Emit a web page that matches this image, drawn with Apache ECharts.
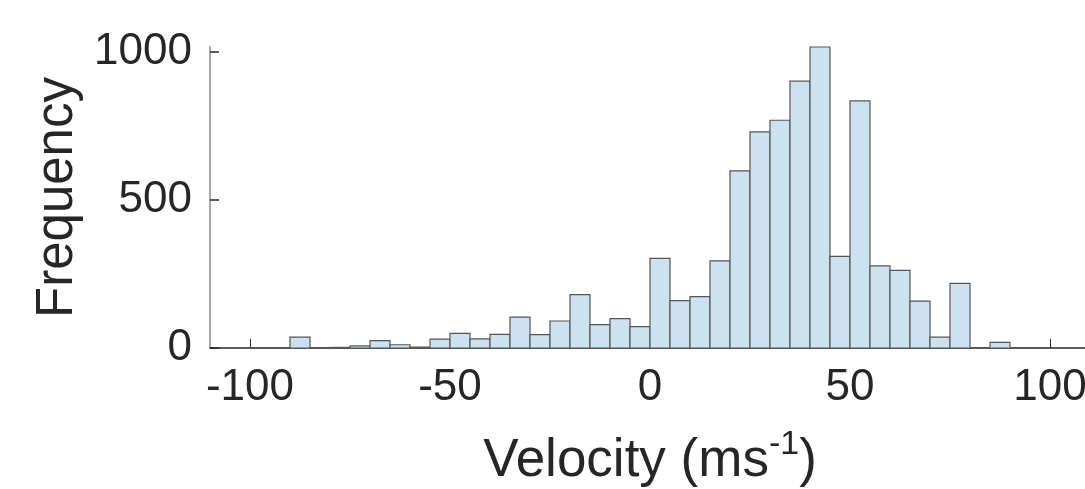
<!DOCTYPE html>
<html>
<head>
<meta charset="utf-8">
<script src="https://cdn.jsdelivr.net/npm/echarts@6/dist/echarts.min.js"></script>
<style>
html,body{margin:0;padding:0;background:#fff;}
#chart{width:1085px;height:489px;}
</style>
</head>
<body>
<div id="chart"></div>
<script>
// Histogram bin edges (ms^-1)
const binEdges = [-100,-95,-90,-85,-80,-75,-70,-65,-60,-55,-50,-45,-40,-35,-30,-25,-20,-15,-10,-5,0,5,10,15,20,25,30,35,40,45,50,55,60,65,70,75,80,85,90,95,100];
// Counts per bin
const counts = [0,0,37,0,2,7,25,11,3,30,49,31,46,104,45,91,180,79,99,72,302,160,173,294,597,729,768,900,1015,309,833,277,262,158,37,218,0,19,0,0];
const xTicks = [-100,-50,0,50,100];
const yTicks = [0,500,1000];

const data = counts.map((c, i) => [binEdges[i], binEdges[i + 1], c]);

const chart = echarts.init(document.getElementById('chart'), null, {renderer: 'canvas'});
const font = 'Liberation Sans, Arial, Helvetica, sans-serif';
chart.setOption({
  animation: false,
  grid: {left: 210, right: -5, top: 47, bottom: 141, containLabel: false, outerBoundsMode: 'none'},
  xAxis: {
    type: 'value', min: -110, max: 110,
    name: 'Velocity (ms{sup|-1})',
    nameLocation: 'middle', nameGap: 80,
    nameTextStyle: {
      fontFamily: font, fontSize: 53, color: '#262626',
      rich: {sup: {fontFamily: font, fontSize: 34, color: '#262626', verticalAlign: 'top', padding: [0, 0, 32, 0]}}
    },
    axisLine: {show: true, onZero: false, lineStyle: {color: '#262626', width: 1.5}},
    axisTick: {show: true, inside: true, length: 9, customValues: xTicks, lineStyle: {color: '#262626'}},
    axisLabel: {customValues: xTicks, fontFamily: font, fontSize: 44, color: '#262626', margin: 18,
      formatter: function (v) { return String(v); }},
    splitLine: {show: false}
  },
  yAxis: {
    type: 'value', min: 0, max: 1015,
    name: 'Frequency', nameLocation: 'middle', nameGap: 113,
    nameTextStyle: {fontFamily: font, fontSize: 51, color: '#262626'},
    axisLine: {show: true, onZero: false, lineStyle: {color: '#a8a8a8', width: 2}},
    axisTick: {show: true, inside: true, length: 9, customValues: yTicks, lineStyle: {color: '#262626', width: 1.5}},
    axisLabel: {customValues: yTicks, fontFamily: font, fontSize: 44, color: '#262626', margin: 18,
      formatter: function (v) { return String(v); }},
    splitLine: {show: false}
  },
  series: [{
    type: 'custom',
    data: data,
    encode: {x: [0, 1], y: 2},
    renderItem: function (params, api) {
      const p0 = api.coord([api.value(0), api.value(2)]);
      const p1 = api.coord([api.value(1), 0]);
      return {
        type: 'rect',
        shape: {x: p0[0], y: p0[1], width: p1[0] - p0[0], height: p1[1] - p0[1]},
        style: {fill: '#cde2f1', stroke: '#555555', lineWidth: 1.2}
      };
    }
  }]
});
</script>
</body>
</html>
